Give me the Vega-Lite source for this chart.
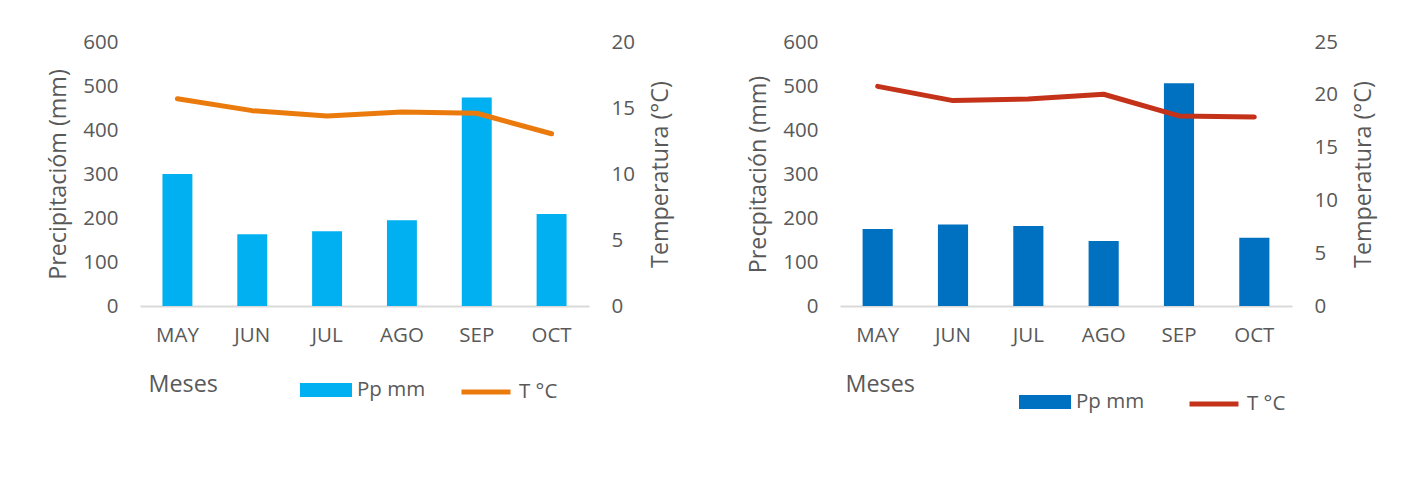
{
  "$schema": "https://vega.github.io/schema/vega-lite/v6.json",
  "background": "white",
  "padding": {"left": 46, "top": 32, "right": 30, "bottom": 0},
  "config": {
    "font": "Open Sans",
    "view": {"stroke": null},
    "axis": {"labelColor": "#595959", "titleColor": "#595959", "labelFontSize": 20.5, "titleFontSize": 23.3, "titleFontWeight": "normal", "grid": false, "ticks": false},
    "legend": {"labelColor": "#595959", "labelFontSize": 20.5, "padding": 0, "offset": 0, "labelOffset": 5},
    "concat": {"spacing": 74}
  },
  "datasets": {
    "a": [
      {"mes": "MAY", "pp": 300, "t": 15.7},
      {"mes": "JUN", "pp": 163, "t": 14.8},
      {"mes": "JUL", "pp": 170, "t": 14.4},
      {"mes": "AGO", "pp": 195, "t": 14.7},
      {"mes": "SEP", "pp": 474, "t": 14.6},
      {"mes": "OCT", "pp": 209, "t": 13.05}
    ],
    "b": [
      {"mes": "MAY", "pp": 175, "t": 20.8},
      {"mes": "JUN", "pp": 185, "t": 19.45},
      {"mes": "JUL", "pp": 182, "t": 19.6},
      {"mes": "AGO", "pp": 148, "t": 20.05},
      {"mes": "SEP", "pp": 506, "t": 18.0},
      {"mes": "OCT", "pp": 155, "t": 17.9}
    ]
  },
  "hconcat": [
    {
      "width": 449, "height": 264,
      "data": {"name": "a"},
      "layer": [
        {
          "mark": {"type": "bar"},
          "encoding": {
            "x": {"field": "mes", "type": "nominal", "sort": null, "scale": {"paddingInner": 0.6, "paddingOuter": 0.3},
                  "axis": {"title": "Meses", "labelAngle": 0, "labelPadding": 19, "domainColor": "#d9d9d9", "domainWidth": 2, "titleAnchor": "start", "titleAlign": "left", "titleX": 8, "titlePadding": 28}},
            "y": {"field": "pp", "type": "quantitative", "scale": {"domain": [0, 600]},
                  "axis": {"orient": "left", "title": "Precipitacióm (mm)", "values": [0, 100, 200, 300, 400, 500, 600], "domain": false, "labelPadding": 22, "titlePadding": 12}},
            "fill": {"datum": "Pp mm", "scale": {"range": ["#00B0F0"]},
                     "legend": {"orient": "none", "legendX": 160, "legendY": 322, "title": null, "symbolType": "M-1,-0.27H1V0.27H-1Z", "symbolSize": 2704, "symbolStrokeWidth": 0}}
          }
        },
        {
          "mark": {"type": "line", "strokeWidth": 5, "strokeCap": "round", "strokeJoin": "round"},
          "encoding": {
            "x": {"field": "mes", "type": "nominal", "sort": null},
            "y": {"field": "t", "type": "quantitative", "scale": {"domain": [0, 20]},
                  "axis": {"orient": "right", "title": "Temperatura (°C)", "titleAngle": 270, "titleBaseline": "top", "values": [0, 5, 10, 15, 20], "domain": false, "labelPadding": 22, "titlePadding": 15}},
            "stroke": {"datum": "T °C", "scale": {"range": ["#EB7A0C"]},
                       "legend": {"orient": "none", "legendX": 319, "legendY": 323, "title": null, "symbolType": "stroke", "symbolSize": 2400, "symbolStrokeWidth": 5, "labelOffset": 6}}
          }
        }
      ],
      "resolve": {"scale": {"y": "independent"}}
    },
    {
      "width": 452, "height": 264,
      "data": {"name": "b"},
      "layer": [
        {
          "mark": {"type": "bar"},
          "encoding": {
            "x": {"field": "mes", "type": "nominal", "sort": null, "scale": {"paddingInner": 0.6, "paddingOuter": 0.3},
                  "axis": {"title": "Meses", "labelAngle": 0, "labelPadding": 19, "domainColor": "#d9d9d9", "domainWidth": 2, "titleAnchor": "start", "titleAlign": "left", "titleX": 5, "titlePadding": 28}},
            "y": {"field": "pp", "type": "quantitative", "scale": {"domain": [0, 600]},
                  "axis": {"orient": "left", "title": "Precpitación (mm)", "values": [0, 100, 200, 300, 400, 500, 600], "domain": false, "labelPadding": 22, "titlePadding": 12}},
            "fill": {"datum": "Pp mm", "scale": {"range": ["#0070C0"]},
                     "legend": {"orient": "none", "legendX": 179, "legendY": 334, "title": null, "symbolType": "M-1,-0.27H1V0.27H-1Z", "symbolSize": 2704, "symbolStrokeWidth": 0}}
          }
        },
        {
          "mark": {"type": "line", "strokeWidth": 5, "strokeCap": "round", "strokeJoin": "round"},
          "encoding": {
            "x": {"field": "mes", "type": "nominal", "sort": null},
            "y": {"field": "t", "type": "quantitative", "scale": {"domain": [0, 25]},
                  "axis": {"orient": "right", "title": "Temperatura (°C)", "titleAngle": 270, "titleBaseline": "top", "values": [0, 5, 10, 15, 20, 25], "domain": false, "labelPadding": 22, "titlePadding": 15}},
            "stroke": {"datum": "T °C", "scale": {"range": ["#C4321A"]},
                       "legend": {"orient": "none", "legendX": 347, "legendY": 335, "title": null, "symbolType": "stroke", "symbolSize": 2400, "symbolStrokeWidth": 5, "labelOffset": 6}}
          }
        }
      ],
      "resolve": {"scale": {"y": "independent"}}
    }
  ],
  "resolve": {"scale": {"fill": "independent", "stroke": "independent"}, "legend": {"fill": "independent", "stroke": "independent"}}
}
